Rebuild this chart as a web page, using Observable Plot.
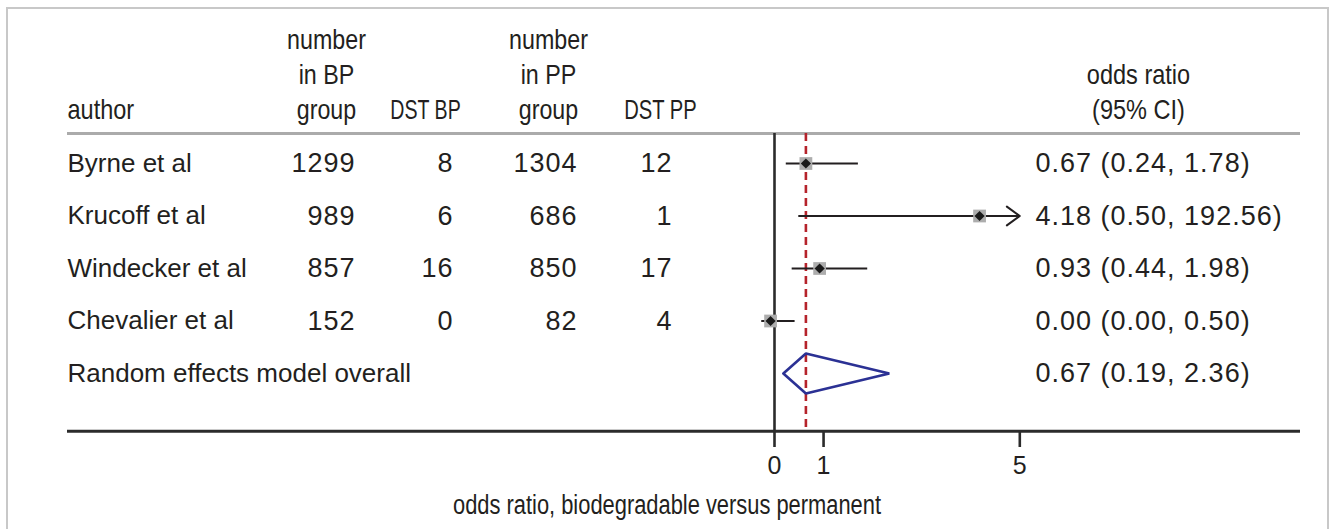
<!DOCTYPE html>
<html>
<head>
<meta charset="utf-8">
<script src="https://cdn.jsdelivr.net/npm/d3@7"></script>
<script src="https://cdn.jsdelivr.net/npm/@observablehq/plot@0.6"></script>
<style>
  html, body { margin: 0; padding: 0; background: #fff; overflow: hidden; }
  #wrap { position: relative; width: 1332px; height: 529px; overflow: hidden; }
  #frame { position: absolute; left: 6px; top: 7px; width: 1323px; height: 600px; border: 2px solid #c8c8c8; box-sizing: border-box; }
  #chart { position: absolute; left: 0; top: 0; }
</style>
</head>
<body>
<div id="wrap"><div id="frame"></div><div id="chart"></div></div>
<script>
// ---- data ----
const authors = ["Byrne et al", "Krucoff et al", "Windecker et al", "Chevalier et al"];
const nBP = [1299, 989, 857, 152];
const dstBP = [8, 6, 16, 0];
const nPP = [1304, 686, 850, 82];
const dstPP = [12, 1, 17, 4];
const orText = ["0.67 (0.24, 1.78)", "4.18 (0.50, 192.56)", "0.93 (0.44, 1.98)", "0.00 (0.00, 0.50)"];
// plotted positions
const orEst = [0.64, 4.18, 0.92, -0.08];
const orLo = [0.24, 0.50, 0.36, -0.26];
const orHi = [1.71, 192.56, 1.90, 0.42];
const pooledLabel = ["Random effects model overall"];
const pooledText = ["0.67 (0.19, 2.36)"];
const pooledEst = [0.64];
const pooledLo = [0.18];
const pooledHi = [2.34];
const refLine = [0.64];
const xTicks = [0, 1, 5];
const xMax = 5;
const headers = [
  {key: "author", text: "author"},
  {key: "nBP", text: "number\nin BP\ngroup"},
  {key: "dstBP", text: "DST BP"},
  {key: "nPP", text: "number\nin PP\ngroup"},
  {key: "dstPP", text: "DST PP"},
  {key: "or", text: "odds ratio\n(95% CI)"}
];
const axisTitle = ["odds ratio, biodegradable versus permanent"];

// ---- layout ----
const W = 1332, H = 529;
const mL = 67, mR = 32;
const pxPerUnit = 49.06, zeroPx = 774;
const headerRuleRow = -0.57, axisRow = 5.1, headerRow = -0.84, headerLineStep = 0.674;
const regular = "'Liberation Sans', Arial, sans-serif";
const ink = "#231f20";
const cols = {
  author: {dx: 0, anchor: "start"},
  nBP: {dx: 288, anchor: "end"},
  dstBP: {dx: 386, anchor: "end"},
  nPP: {dx: 510, anchor: "end"},
  dstPP: {dx: 605, anchor: "end"},
  or: {dx: 968, anchor: "start"}
};
const headCols = {
  author: {dx: 0, anchor: "start", squeeze: 0.84},
  nBP: {dx: 259, anchor: "middle", squeeze: 0.83},
  dstBP: {dx: 358, anchor: "middle", squeeze: 0.70},
  nPP: {dx: 481, anchor: "middle", squeeze: 0.83},
  dstPP: {dx: 593, anchor: "middle", squeeze: 0.72},
  or: {dx: 1071, anchor: "middle", squeeze: 0.84}
};
const axisTitleWidth = 428;

const studies = authors.map((a, i) => ({
  row: i, author: a, nBP: String(nBP[i]), dstBP: String(dstBP[i]),
  nPP: String(nPP[i]), dstPP: String(dstPP[i]), or: orText[i],
  est: orEst[i], lo: orLo[i], hi: orHi[i]
}));
const pooled = pooledLabel.map((l, i) => ({row: authors.length, author: l, or: pooledText[i], est: pooledEst[i], lo: pooledLo[i], hi: pooledHi[i]}));
const inRange = studies.filter(d => d.hi <= xMax);
const clipped = studies.filter(d => d.hi > xMax);
const h = 0.38;
const diamondPts = pooled.flatMap(d => [
  {x: d.lo, y: d.row}, {x: d.est, y: d.row - h}, {x: d.hi, y: d.row}, {x: d.est, y: d.row + h}, {x: d.lo, y: d.row}
]);

// header lines, one text per line (bottom line at headerRow)
const headerLines = headers.flatMap(hd => {
  const lines = hd.text.split("\n");
  return lines.map((t, j) => ({key: hd.key, text: t, row: headerRow - (lines.length - 1 - j) * headerLineStep}));
});
const squeezeMap = new Map(headerLines.map(d => [d.text, headCols[d.key].squeeze]));

const textMarks = ["author", "nBP", "dstBP", "nPP", "dstPP", "or"].map(k => Plot.text(
  k === "author" || k === "or" ? studies.concat(pooled) : studies, {
  y: "row", text: k, frameAnchor: "left", dx: cols[k].dx, textAnchor: cols[k].anchor,
  fontSize: k === "author" ? 26 : 27, fontFamily: regular, fill: ink, lineAnchor: "middle"
}));
const headerMarks = Object.keys(headCols).map(k => Plot.text(headerLines.filter(d => d.key === k), {
  y: "row", text: "text", frameAnchor: "left", dx: headCols[k].dx, textAnchor: headCols[k].anchor,
  fontSize: 28, fontFamily: regular, fill: ink, lineAnchor: "bottom"
}));

const chart = Plot.plot({
  width: W, height: H,
  marginLeft: mL, marginRight: mR, marginTop: 0, marginBottom: H - 431,
  x: {domain: [-(zeroPx - mL) / pxPerUnit, (W - mR - zeroPx) / pxPerUnit]},
  y: {type: "linear", domain: [0, 4], range: [163, 373], axis: null},
  style: {fontFamily: regular, fontSize: "25px", color: ink, background: "transparent"},
  marks: [
    Plot.ruleY([headerRuleRow], {stroke: "#ababab", strokeWidth: 3}),
    Plot.ruleX([0], {y1: headerRuleRow, y2: axisRow, stroke: "#2b2b2b", strokeWidth: 2.6}),
    Plot.ruleX(refLine, {y1: headerRuleRow, y2: axisRow, stroke: "#b5232b", strokeWidth: 2.6, strokeDasharray: "8,5"}),
    Plot.ruleY([axisRow], {stroke: "#2b2b2b", strokeWidth: 3}),
    Plot.axisX(xTicks, {anchor: "bottom", tickSize: 16, tickPadding: 9, fontSize: 25, stroke: "#2b2b2b", strokeWidth: 2.6, label: null, fill: ink}),
    Plot.ruleY(inRange, {y: "row", x1: "lo", x2: "hi", stroke: "#231f20", strokeWidth: 2}),
    Plot.arrow(clipped, {x1: "lo", x2: () => xMax, y1: "row", y2: "row", stroke: "#231f20", strokeWidth: 2, headLength: 12, headAngle: 72}),
    Plot.dot(studies, {x: "est", y: "row", symbol: "square", r: 7.2, fill: "#adadad", stroke: null}),
    Plot.dot(studies, {x: "est", y: "row", symbol: "diamond2", r: 4.6, fill: "#1a1a1a", stroke: null}),
    Plot.line(diamondPts, {x: "x", y: "y", stroke: "#2b3194", strokeWidth: 2.6, strokeLinejoin: "miter"}),
    ...textMarks,
    ...headerMarks,
    Plot.text(axisTitle, {frameAnchor: "bottom", dx: -17, dy: 74, fontSize: 27, fontFamily: regular, fill: ink, lineAnchor: "middle"})
  ]
});
document.getElementById("chart").appendChild(chart);

// condensed look: squeeze header and axis-title glyphs; widen numeric spacing
const numeric = new Set(studies.flatMap(d => [d.nBP, d.dstBP, d.nPP, d.dstPP, d.or]).concat(pooled.map(d => d.or)));
chart.querySelectorAll("text").forEach(t => {
  const s = t.textContent;
  const inAxis = (t.closest("g[aria-label]")?.getAttribute("aria-label") || "").includes("axis");
  if (inAxis) return;
  if (squeezeMap.has(s)) {
    const w = t.getComputedTextLength();
    t.setAttribute("textLength", (w * squeezeMap.get(s)).toFixed(1));
    t.setAttribute("lengthAdjust", "spacingAndGlyphs");
  } else if (s === axisTitle[0]) {
    t.setAttribute("textLength", axisTitleWidth);
    t.setAttribute("lengthAdjust", "spacingAndGlyphs");
  } else if (numeric.has(s)) {
    t.style.letterSpacing = "1px";
  }
});
</script>
</body>
</html>
